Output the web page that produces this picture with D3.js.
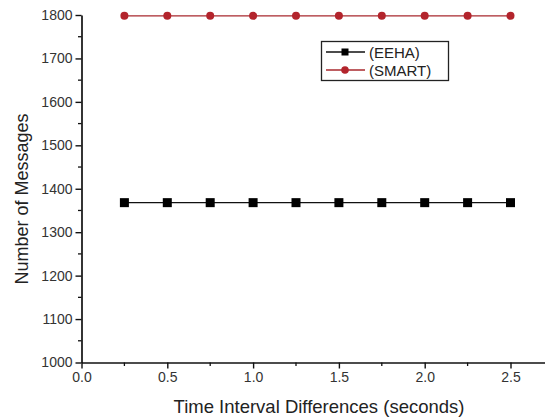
<!DOCTYPE html>
<html><head><meta charset="utf-8">
<script src="https://cdn.jsdelivr.net/npm/d3@7"></script>
<style>body{margin:0;background:#fff}svg{display:block;font-family:"Liberation Sans",Arial,sans-serif}</style>
</head><body>
<svg id="c" width="545" height="419"></svg>
<script>
const xValues = [0.25,0.5,0.75,1.0,1.25,1.5,1.75,2.0,2.25,2.5];
const eehaValues = [1368,1368,1368,1368,1368,1368,1368,1368,1368,1368];
const smartValues = [1798,1798,1798,1798,1798,1798,1798,1798,1798,1798];
const xTicks = [0.0,0.5,1.0,1.5,2.0,2.5];
const yTicks = [1000,1100,1200,1300,1400,1500,1600,1700,1800];
const seriesNames = ["(EEHA)","(SMART)"];

(function(){
const svg = d3.select("#c");
const mLeft = 81.5, mTop = 15, mBottom = 362.5;
const perUnit = (510.5 - mLeft) / 2.5;
const x = d3.scaleLinear().domain([0, 2.7]).range([mLeft, mLeft + 2.7*perUnit]);
const y = d3.scaleLinear().domain([1000, 1800]).range([mBottom, mTop]);

const xMinor = d3.range(0.25, 2.7, 0.5);
const yMinor = d3.range(1050, 1800, 100);
svg.append("g").selectAll("line").data(xMinor).join("line")
  .attr("x1", d=>x(d)).attr("x2", d=>x(d)).attr("y1", mBottom).attr("y2", mBottom+3.5)
  .attr("stroke","#111").attr("stroke-width",1.3);
svg.append("g").selectAll("line").data(yMinor).join("line")
  .attr("y1", d=>y(d)).attr("y2", d=>y(d)).attr("x1", mLeft).attr("x2", mLeft-3.5)
  .attr("stroke","#111").attr("stroke-width",1.3);

const xAxis = svg.append("g").attr("transform",`translate(0,${mBottom})`)
  .call(d3.axisBottom(x).tickValues(xTicks).tickFormat(d3.format(".1f")).tickSize(6).tickSizeOuter(0).tickPadding(4));
const yAxis = svg.append("g").attr("transform",`translate(${mLeft},0)`)
  .call(d3.axisLeft(y).tickValues(yTicks).tickFormat(d3.format("d")).tickSize(6).tickSizeOuter(0).tickPadding(3));
[xAxis,yAxis].forEach(a=>{
  a.select(".domain").attr("stroke","#111").attr("stroke-width",1.7);
  a.selectAll(".tick line").attr("stroke","#111").attr("stroke-width",1.4);
  a.selectAll("text").attr("font-size",14).attr("fill","#333").attr("font-family","Liberation Sans, Arial, sans-serif");
});

const line = d3.line().x((d,i)=>x(xValues[i])).y(d=>y(d));
svg.append("path").datum(eehaValues).attr("d",line).attr("fill","none").attr("stroke","#111").attr("stroke-width",1.3);
svg.append("path").datum(smartValues).attr("d",line).attr("fill","none").attr("stroke","#a8282e").attr("stroke-width",1.3);
svg.append("g").selectAll("rect").data(eehaValues).join("rect")
  .attr("x",(d,i)=>x(xValues[i])-4.5).attr("y",d=>y(d)-4.5).attr("width",9).attr("height",9).attr("fill","#000");
svg.append("g").selectAll("circle").data(smartValues).join("circle")
  .attr("cx",(d,i)=>x(xValues[i])).attr("cy",d=>y(d)).attr("r",4).attr("fill","#b3242c");

const lg = svg.append("g");
lg.append("rect").attr("x",321.5).attr("y",41.5).attr("width",127).attr("height",39)
  .attr("fill","#fff").attr("stroke","#222").attr("stroke-width",1.3);
const colors = ["#111","#a8282e"];
seriesNames.forEach((n,i)=>{
  const yy = 52 + i*18;
  lg.append("line").attr("x1",326).attr("x2",365).attr("y1",yy).attr("y2",yy).attr("stroke",colors[i]).attr("stroke-width",1.3);
  if(i===0) lg.append("rect").attr("x",341.5).attr("y",yy-3.5).attr("width",7).attr("height",7).attr("fill","#000");
  else lg.append("circle").attr("cx",345).attr("cy",yy).attr("r",3.8).attr("fill","#b3242c");
  lg.append("text").attr("x",369).attr("y",yy+5.5).attr("font-size",15).attr("fill","#222").text(n);
});

svg.append("text").attr("x",319).attr("y",413).attr("text-anchor","middle").attr("font-size",18.5).attr("fill","#222")
  .text("Time Interval Differences (seconds)");
svg.append("text").attr("transform","translate(28,199) rotate(-90)").attr("text-anchor","middle").attr("font-size",18).attr("fill","#222")
  .text("Number of Messages");
})();
</script>
</body></html>
